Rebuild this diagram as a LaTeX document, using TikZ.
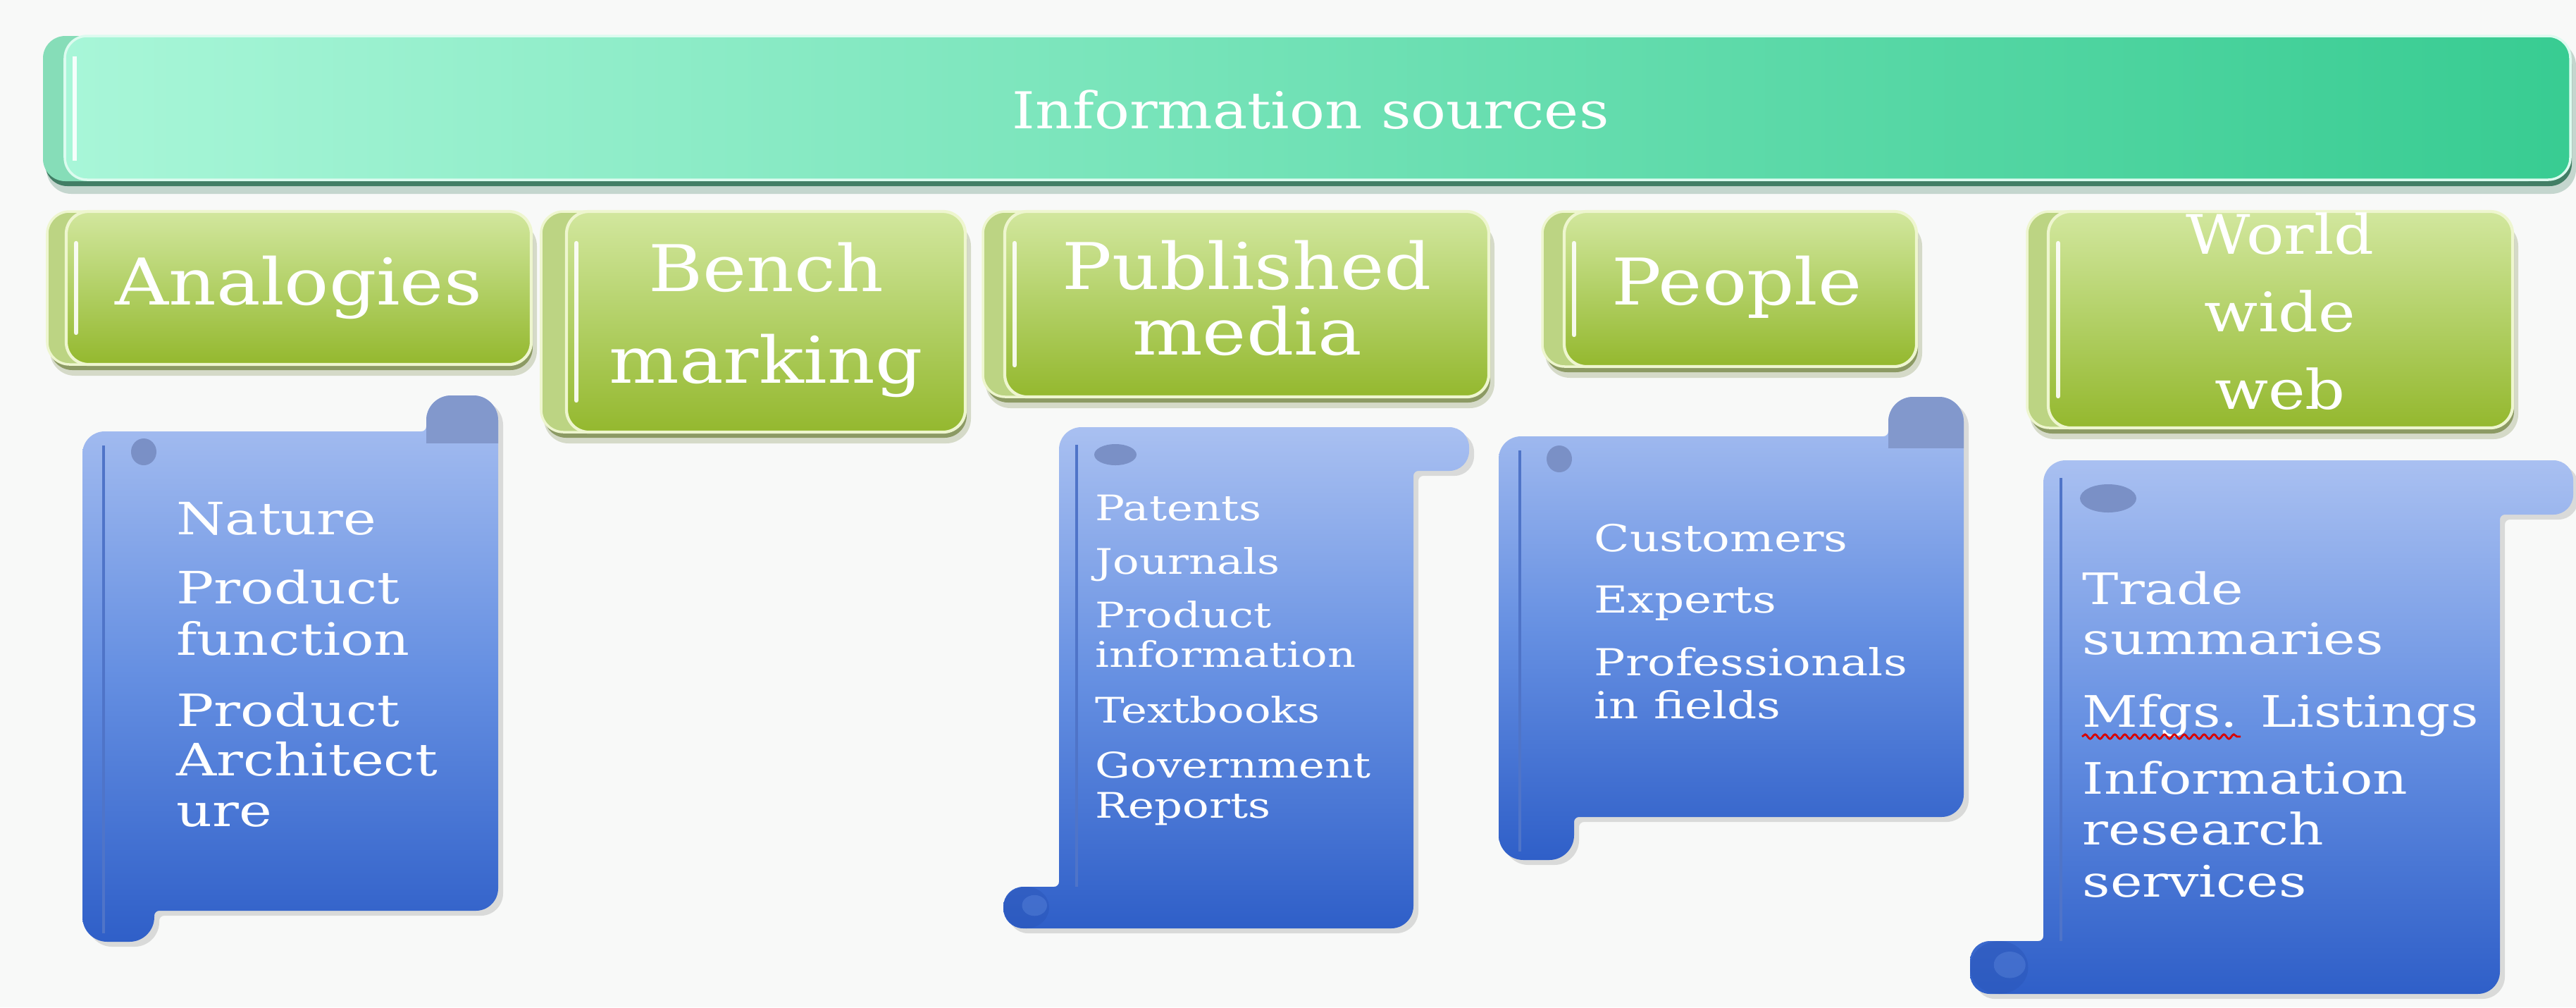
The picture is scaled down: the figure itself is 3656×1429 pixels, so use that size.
\documentclass[tikz,border=0pt]{standalone}
\usepackage{fontspec}
\usetikzlibrary{shadows,decorations.pathmorphing,calc}
\newfontfamily\hdfont[FakeStretch=1.15]{DejaVu Serif}
\newfontfamily\scfont[FakeStretch=1.25]{DejaVu Serif}
\definecolor{bgc}{HTML}{F8F9F8}
\definecolor{barL}{HTML}{A8F6D8}
\definecolor{barR}{HTML}{38CC92}
\definecolor{barBack}{HTML}{86DDB8}
\definecolor{barShadow}{HTML}{2C6F53}
\definecolor{gTop}{HTML}{D2E79E}
\definecolor{gMid}{HTML}{B2D066}
\definecolor{gBot}{HTML}{94B82E}
\definecolor{gBack}{HTML}{BCD483}
\definecolor{gRim}{HTML}{EEF6CF}
\definecolor{gShadow}{HTML}{6E7F3A}
\definecolor{sTop}{HTML}{A9C0F1}
\definecolor{sMid}{HTML}{6690E2}
\definecolor{sBot}{HTML}{2F5FC8}
\definecolor{sRoll}{HTML}{8298CC}
\definecolor{sDark}{HTML}{7A90C6}
\definecolor{sFold}{HTML}{4F74C8}
\definecolor{sCurl}{HTML}{2A55B8}

% green header box: Lback Lfront R T B
\newcommand\greenbox[5]{%
 \fill[gShadow,opacity=.25,rounded corners=10pt] (#1+4,#4+14) rectangle (#3+8,#5+16);
 \fill[gShadow,opacity=.7,rounded corners=9pt] (#1+4,#4+8) rectangle (#3+2,#5+8);
 \fill[gBack,rounded corners=9pt] (#1,#4) rectangle (#3-#2+#1,#5);
 \draw[gRim,line width=1pt,rounded corners=9pt] (#1,#4) rectangle (#3-#2+#1,#5);
 \shade[top color=gTop,bottom color=gBot,middle color=gMid,rounded corners=9pt] (#2,#4) rectangle (#3,#5);
 \draw[gRim,line width=1.2pt,rounded corners=9pt] (#2,#4) rectangle (#3,#5);
 \draw[white,opacity=.9,line width=1.8pt,line cap=round] (#2+14,#4+45) -- (#2+14,#5-45);
}
% vertical scroll: L R T B w Tr Bb
\newcommand\vscroll[7]{%
 \shade[top color=sTop,bottom color=sBot,middle color=sMid,
   drop shadow={opacity=.25,shadow xshift=2pt,shadow yshift=-2pt}]
   (#1,#3+100)
   [rounded corners=9pt] -- (#1,#3)
   [rounded corners=2pt] -- (#2-#5,#3)
   [rounded corners=10pt] -- (#2-#5,#6)
   -- (#2,#6)
   [rounded corners=9pt] -- (#2,#4)
   [rounded corners=2pt] -- (#1+#5,#4)
   [rounded corners=10pt] -- (#1+#5,#7)
   -- (#1,#7)
   [sharp corners] -- cycle;
 \begin{scope}
  \clip (#2-#5-5,#6-5) rectangle (#2+5,#3+16);
  \fill[sRoll,rounded corners=10pt] (#2-#5,#6) rectangle (#2,#3+60);
 \end{scope}
 \draw[sFold,line width=1.2pt] (#1+30,#3+20) -- (#1+30,#7-12);
}
% horizontal scroll: L R T B Rt h Lt hb
\newcommand\hscroll[8]{%
 \shade[top color=sTop,bottom color=sBot,middle color=sMid,
   drop shadow={opacity=.25,shadow xshift=2pt,shadow yshift=-2pt}]
   (#1,#3+100)
   [rounded corners=9pt] -- (#1,#3)
   [rounded corners=8pt] -- (#5,#3)
   -- (#5,#3+#6)
   [rounded corners=2pt] -- (#2,#3+#6)
   [rounded corners=9pt] -- (#2,#4)
   [rounded corners=8pt] -- (#7,#4)
   -- (#7,#4-#8)
   [rounded corners=2pt] -- (#1,#4-#8)
   [sharp corners] -- cycle;
 \fill[sCurl,opacity=.45] (#7+#8*0.55,#4-#8*0.5) ellipse [x radius=#8*0.55,y radius=#8*0.5];
 \fill[sMid,opacity=.35] (#7+#8*0.75,#4-#8*0.55) ellipse [x radius=#8*0.3,y radius=#8*0.25];
 \draw[sFold,line width=1.2pt] (#1+25,#3+25) -- (#1+25,#4-#8);
}

\tikzset{
 hdtext/.style={font=\hdfont\fontsize{26}{26}\selectfont,text=white,anchor=base,inner sep=0pt},
 wwwtext/.style={font=\hdfont\fontsize{22}{22}\selectfont,text=white,anchor=base,inner sep=0pt},
 toptext/.style={font=\hdfont\fontsize{20.5}{20.5}\selectfont,text=white,anchor=base,inner sep=0pt},
 sca/.style={font=\scfont\fontsize{18}{18}\selectfont,text=white,anchor=base west,inner sep=0pt},
 scp/.style={font=\scfont\fontsize{14.2}{14.2}\selectfont,text=white,anchor=base west,inner sep=0pt},
 sce/.style={font=\scfont\fontsize{15}{15}\selectfont,text=white,anchor=base west,inner sep=0pt},
 scw/.style={font=\scfont\fontsize{17.5}{17.5}\selectfont,text=white,anchor=base west,inner sep=0pt},
}

\begin{document}
\begin{tikzpicture}[x=0.01cm,y=-0.01cm]
\fill[bgc] (0,0) rectangle (3656,1429);
\useasboundingbox (0,0) rectangle (3656,1429);

% ---- top bar
\fill[barShadow,opacity=.25,rounded corners=10pt] (66,58) rectangle (3656,275);
\fill[barShadow,opacity=.85,rounded corners=9pt] (64,60) rectangle (3650,264);
\fill[barBack,rounded corners=9pt] (61,51) rectangle (3620,257);
\shade[left color=barL,right color=barR,rounded corners=9pt] (92,51) rectangle (3648,255);
\draw[white!60!barL,line width=1pt,rounded corners=9pt] (92,51) rectangle (3648,255);
\draw[white,opacity=.9,line width=1.8pt] (106,80) -- (106,228);
\node[toptext] (src) at (1860,182) {Information sources};

% ---- green header boxes
\greenbox{67}{94}{754}{300}{517}
\greenbox{768}{804}{1370}{300}{613}
\greenbox{1395}{1426}{2113}{300}{563}
\greenbox{2189}{2220}{2720}{300}{520}
\greenbox{2877}{2907}{3566}{300}{607}

\node[hdtext] (hana) at (424,432) {Analogies};
\node[hdtext] (hben1) at (1087,413) {Bench};
\node[hdtext] (hben2) at (1087,543) {marking};
\node[hdtext] (hpub1) at (1770,410) {Published};
\node[hdtext] (hpub2) at (1770,503) {media};
\node[hdtext] (hpeo) at (2465,432) {People};
\node[wwwtext] (hwww1) at (3236,360) {World};
\node[wwwtext] (hwww2) at (3236,470) {wide};
\node[wwwtext] (hwww3) at (3236,580) {web};

% ---- scrolls
\vscroll{117}{707}{612}{1292}{102}{561}{1336}
\fill[sDark] (204,641) ellipse [x radius=18,y radius=19];

\hscroll{1503}{2006}{606}{1317}{2085}{62}{1424}{59}
\fill[sDark] (1583,645) ellipse [x radius=30,y radius=15];

\vscroll{2127}{2787}{619}{1159}{107}{563}{1220}
\fill[sDark] (2213,651) ellipse [x radius=18,y radius=19];

\hscroll{2900}{3548}{653}{1410}{3652}{77}{2796}{75}
\fill[sDark] (2992,707) ellipse [x radius=40,y radius=20];

% ---- scroll texts
\node[sca] (a1) at (250,758) {Nature};
\node[sca] (a2) at (250,856) {Product};
\node[sca] (a3) at (250,929) {function};
\node[sca] (a4) at (250,1030) {Product};
\node[sca] (a5) at (250,1100) {Architect};
\node[sca] (a6) at (250,1172) {ure};

\node[scp] (p1) at (1554,738) {Patents};
\node[scp] (p2) at (1554,814) {Journals};
\node[scp] (p3) at (1554,890) {Product};
\node[scp] (p4) at (1554,946) {information};
\node[scp] (p5) at (1554,1025) {Textbooks};
\node[scp] (p6) at (1554,1103) {Government};
\node[scp] (p7) at (1554,1160) {Reports};

\node[sce] (e1) at (2262,782) {Customers};
\node[sce] (e2) at (2262,869) {Experts};
\node[sce] (e3) at (2262,958) {Professionals};
\node[sce] (e4) at (2262,1019) {in fields};

\node[scw] (w1) at (2955,857) {Trade};
\node[scw] (w2) at (2955,928) {summaries};
\node[scw] (w3) at (2955,1031) {Mfgs. Listings};
\node[scw] (w4) at (2955,1126) {Information};
\node[scw] (w5) at (2955,1198) {research};
\node[scw] (w6) at (2955,1272) {services};

\draw[red!85!black,line width=0.8pt,decorate,decoration={snake,amplitude=0.9pt,segment length=4pt}]
  ($(w3.base west)+(0,14)$) -- ($(w3.base west)+(225,14)$);
\end{tikzpicture}
\end{document}
